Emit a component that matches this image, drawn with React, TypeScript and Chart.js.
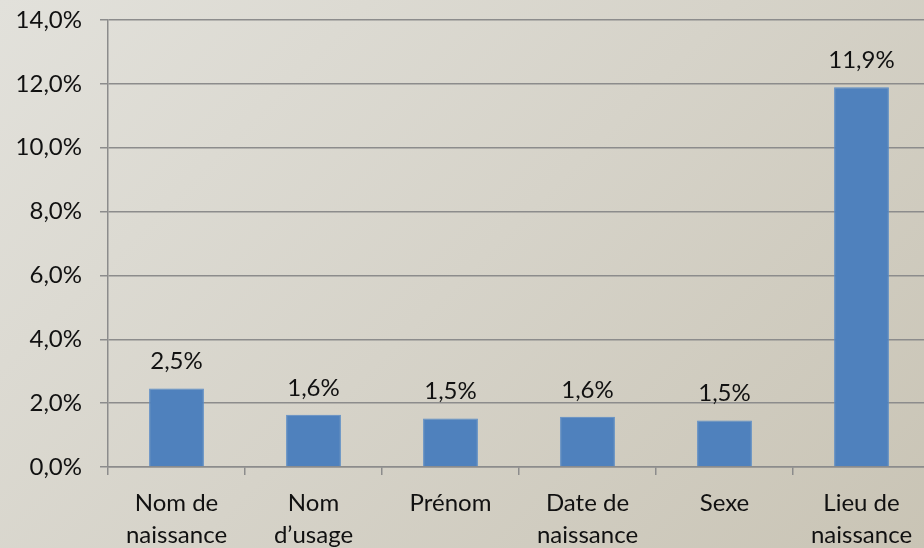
import React, { useEffect, useRef } from "react";
import { Chart, registerables } from "chart.js";

Chart.register(...registerables);

const categories: string[][] = [
  ["Nom de", "naissance"],
  ["Nom", "d’usage"],
  ["Prénom"],
  ["Date de", "naissance"],
  ["Sexe"],
  ["Lieu de", "naissance"],
];
const values: number[] = [2.46, 1.64, 1.52, 1.57, 1.46, 11.89];
const yMin = 0;
const yMax = 14;
const yStep = 2;

const FONT = "Lato, 'DejaVu Sans', sans-serif";
const fmt = (v: number) => v.toFixed(1).replace(".", ",") + "%";

const valueLabels = {
  id: "valueLabels",
  afterDatasetsDraw(chart: any) {
    const ctx = chart.ctx;
    const meta = chart.getDatasetMeta(0);
    ctx.save();
    ctx.fillStyle = "#111111";
    ctx.font = `24px ${FONT}`;
    ctx.textAlign = "center";
    ctx.textBaseline = "alphabetic";
    meta.data.forEach((bar: any, i: number) => {
      ctx.fillText(fmt(values[i]), bar.x, bar.y - 19);
    });
    ctx.restore();
  },
};

export default function App() {
  const ref = useRef<HTMLCanvasElement | null>(null);
  useEffect(() => {
    document.body.style.margin = "0";
    document.body.style.overflow = "hidden";
    if (!ref.current) return;
    const grid = "#8c8c8c";
    const chart = new Chart(ref.current, {
      type: "bar",
      data: {
        labels: categories,
        datasets: [
          {
            data: values,
            backgroundColor: "#4f81bd",
            borderColor: "#5a8cc7",
            borderWidth: 1,
            categoryPercentage: 1,
            barPercentage: 0.4,
          },
        ],
      },
      options: {
        animation: false,
        responsive: false,
        devicePixelRatio: 1,
        layout: { padding: { top: 20, right: 2, left: 0, bottom: 0 } },
        plugins: {
          legend: { display: false },
          tooltip: { enabled: false },
        },
        scales: {
          x: {
            afterFit: (s: any) => {
              s.height = 81;
              s.paddingLeft = 0;
              s.paddingRight = 0;
            },
            grid: {
              display: true,
              drawOnChartArea: false,
              drawTicks: true,
              tickLength: 8,
              color: grid,
              lineWidth: 1.5,
              offset: true,
            },
            border: { display: true, color: grid, width: 1.5 },
            ticks: {
              color: "#111111",
              font: { family: FONT, size: 24, lineHeight: "32px" as any },
              padding: 12,
              maxRotation: 0,
              autoSkip: false,
            },
          },
          y: {
            min: yMin,
            max: yMax,
            afterFit: (s: any) => {
              s.width = 108;
              s.paddingTop = 0;
              s.paddingBottom = 0;
            },
            ticks: {
              stepSize: yStep,
              color: "#111111",
              font: { family: FONT, size: 24 },
              padding: 18,
              callback: (v: any) => fmt(Number(v)),
            },
            grid: {
              color: grid,
              lineWidth: 1.5,
              tickLength: 8,
            },
            border: { display: true, color: grid, width: 1.5 },
          },
        },
      },
      plugins: [valueLabels],
    });
    return () => chart.destroy();
  }, []);
  return (
    <div
      style={{
        position: "relative",
        width: 924,
        height: 548,
        overflow: "hidden",
        background: "linear-gradient(135deg, #e2e1db 0%, #d6d3c9 50%, #c9c4b5 100%)",
      }}
    >
      <canvas ref={ref} width={932} height={548} style={{ display: "block", width: 932, height: 548 }} />
    </div>
  );
}
